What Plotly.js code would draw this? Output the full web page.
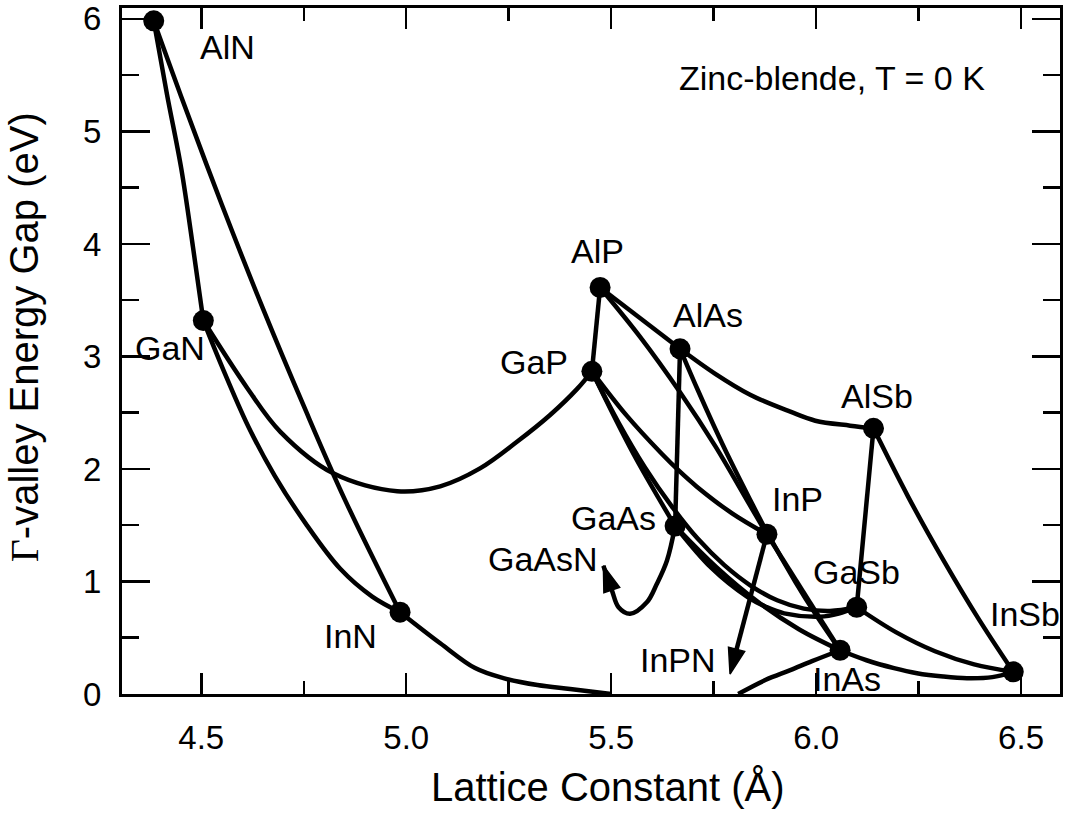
<!DOCTYPE html>
<html>
<head>
<meta charset="utf-8">
<script src="https://cdn.plot.ly/plotly-3.0.1.min.js"></script>
<style>html,body{margin:0;padding:0;background:#fff;}#chart{width:1065px;height:818px;}</style>
</head>
<body>
<div id="chart"></div>
<script>
// Binary compounds (lattice constant in Å, Γ-valley gap in eV)
const compounds = ['AlN','GaN','InN','AlP','GaP','AlAs','GaAs','InP','AlSb','GaSb','InAs','InSb'];
const latticeA = [4.384,4.505,4.985,5.473,5.453,5.668,5.656,5.880,6.140,6.099,6.0585,6.481];
const gapEV    = [5.983,3.319,0.727,3.613,2.868,3.068,1.493,1.420,2.361,0.771,0.389,0.197];

// Ternary curves
const alganX = [4.384,4.416,4.451,4.480,4.505];
const alganY = [5.983,5.336,4.673,3.966,3.319];
const alinnX = [4.384,4.45,4.55,4.65,4.75,4.85,4.985];
const alinnY = [5.983,5.32,4.35,3.43,2.56,1.73,0.727];
const gainnX = [4.505,4.551,4.615,4.680,4.754,4.839,4.917,4.985];
const gainnY = [3.319,2.906,2.376,1.935,1.519,1.113,0.866,0.727];
const ganpX = [4.505,4.612,4.693,4.822,4.978,5.083,5.180,5.271,5.351,5.417,5.453];
const ganpY = [3.319,2.72,2.33,1.961,1.802,1.846,2.005,2.244,2.48,2.712,2.868];
const innasX = [4.985,5.083,5.168,5.237,5.320,5.400,5.50];
const innasY = [0.727,0.451,0.230,0.141,0.080,0.044,0.0];
const inasnX = [5.810,5.876,5.937,5.990,6.0585];
const inasnY = [0.0,0.124,0.212,0.292,0.389];
const algapX = [5.453,5.473];
const algapY = [2.868,3.613];
const alpasX = [5.473,5.668];
const alpasY = [3.613,3.068];
const alassbX = [5.668,5.754,5.839,5.937,5.998,6.083,6.140];
const alassbY = [3.068,2.845,2.659,2.509,2.429,2.385,2.361];
const alinpX = [5.473,5.571,5.668,5.754,5.838,5.880];
const alinpY = [3.613,3.172,2.682,2.203,1.68,1.42];
const alinasX = [5.668,5.71,5.75,5.79,5.838,5.88,5.95,6.0,6.0585];
const alinasY = [3.068,2.713,2.389,2.081,1.733,1.44,0.993,0.702,0.389];
const inasp_X = [5.880,6.0585];
const inasp_Y = [1.420,0.389];
const gaaspX = [5.453,5.5545,5.656];
const gaaspY = [2.868,2.133,1.493];
const gainpX = [5.453,5.538,5.624,5.6665,5.709,5.795,5.880];
const gainpY = [2.868,2.474,2.133,1.98,1.843,1.606,1.42];
const gapsbX = [5.453,5.5176,5.582,5.647,5.711,5.776,5.841,5.905,5.970,6.034,6.099];
const gapsbY = [2.868,2.415,2.016,1.672,1.381,1.145,0.962,0.833,0.759,0.738,0.771];
const gaassbX = [5.656,5.7446,5.833,5.8775,5.922,6.010,6.055,6.099];
const gaassbY = [1.493,1.120,0.861,0.775,0.717,0.687,0.714,0.771];
const gainasX = [5.656,5.7566,5.857,5.958,6.0585];
const gainasY = [1.493,1.128,0.822,0.576,0.389];
const algaasX = [5.668,5.656];
const algaasY = [3.068,1.493];
const algasbX = [6.140,6.099];
const algasbY = [2.361,0.771];
const alinsbX = [6.140,6.225,6.3105,6.396,6.481];
const alinsbY = [2.361,1.75,1.19,0.67,0.197];
const gainsbX = [6.099,6.1945,6.29,6.3855,6.481];
const gainsbY = [0.771,0.550,0.380,0.263,0.197];
const inassbX = [6.0585,6.123,6.19,6.246,6.31,6.368,6.43,6.481];
const inassbY = [0.389,0.30,0.23,0.185,0.155,0.14,0.15,0.197];
// arrows (last point = arrow tip)
const gaasnX = [5.656,5.636,5.611,5.587,5.546,5.518,5.502,5.481];
const gaasnY = [1.493,1.184,0.975,0.815,0.713,0.771,0.919,1.14];
const inpnX = [5.880,5.790];
const inpnY = [1.420,0.177];

// Text labels
const labelText = ['AlN','GaN','InN','AlP','GaP','AlAs','GaAs','GaAsN','InP','GaSb','AlSb','InSb','InAs','InPN'];
const labelX = [4.563,4.424,4.863,5.466,5.312,5.737,5.505,5.334,5.954,6.098,6.149,6.510,6.076,5.663];
const labelY = [5.751,3.074,0.512,3.940,2.951,3.366,1.564,1.201,1.731,1.087,2.650,0.707,0.133,0.300];

const curves = [
  [alganX,alganY],[alinnX,alinnY],[gainnX,gainnY],[ganpX,ganpY],[innasX,innasY],[inasnX,inasnY],
  [algapX,algapY],[alpasX,alpasY],[alassbX,alassbY],[alinpX,alinpY],[alinasX,alinasY],[inasp_X,inasp_Y],
  [gaaspX,gaaspY],[gainpX,gainpY],[gapsbX,gapsbY],[gaassbX,gaassbY],[gainasX,gainasY],[algaasX,algaasY],
  [algasbX,algasbY],[alinsbX,alinsbY],[gainsbX,gainsbY],[inassbX,inassbY]
];
const arrows = [[gaasnX,gaasnY],[inpnX,inpnY]];

const LW = 4.5;
const FONT = 'Liberation Sans, Arial, Helvetica, sans-serif';
const traces = curves.map(c => ({
  x: c[0], y: c[1], mode: 'lines', type: 'scatter',
  line: {color: '#000', width: LW, shape: c[0].length > 2 ? 'spline' : 'linear'},
  hoverinfo: 'skip', showlegend: false, cliponaxis: true
}));
arrows.forEach(c => traces.push({
  x: c[0], y: c[1], mode: 'lines+markers', type: 'scatter',
  line: {color: '#000', width: LW, shape: c[0].length > 2 ? 'spline' : 'linear'},
  marker: {
    color: '#000', opacity: 1, symbol: 'arrow', angleref: 'previous',
    line: {color: '#000', width: 1.5},
    size: c[0].map((v,i) => i === c[0].length - 1 ? 27 : 0)
  },
  hoverinfo: 'skip', showlegend: false
}));
traces.push({
  x: latticeA, y: gapEV, text: compounds, mode: 'markers', type: 'scatter',
  marker: {color: '#000', size: 21}, showlegend: false
});

const annotations = labelText.map((t,i) => ({
  x: labelX[i], y: labelY[i], xref: 'x', yref: 'y', text: t, showarrow: false,
  xanchor: 'center', yanchor: 'middle', font: {family: FONT, size: 34, color: '#000'}
}));
annotations.push({
  x: 6.039, y: 5.477, xref: 'x', yref: 'y', text: 'Zinc-blende, T = 0 K', showarrow: false,
  xanchor: 'center', yanchor: 'middle', font: {family: FONT, size: 34, color: '#000'}
});
// axis titles, placed as in the reference
annotations.push({
  x: 0.518, y: -0.135, xref: 'paper', yref: 'paper', text: 'Lattice Constant (Å)', showarrow: false,
  xanchor: 'center', yanchor: 'middle', font: {family: FONT, size: 40, color: '#000'}
});
annotations.push({
  x: -0.1045, y: 0.52, xref: 'paper', yref: 'paper', textangle: -90,
  text: '<span style="font-family:\'Liberation Serif\',serif">Γ</span>-valley Energy Gap (eV)', showarrow: false,
  xanchor: 'center', yanchor: 'middle', font: {family: FONT, size: 40, color: '#000'}
});

const axisCommon = {
  showline: true, linewidth: 3, linecolor: '#000', mirror: 'ticks',
  ticks: 'inside', tickwidth: 2.5, tickcolor: '#000',
  showgrid: false, zeroline: false, ticklabeloverflow: 'allow',
  tickfont: {family: FONT, size: 33, color: '#000'}
};

const layout = {
  width: 1065, height: 818,
  margin: {l: 122, r: 5, t: 8, b: 124},
  paper_bgcolor: '#fff', plot_bgcolor: '#fff',
  font: {family: FONT, color: '#000'},
  xaxis: Object.assign({}, axisCommon, {
    range: [4.3066, 6.595], tick0: 4.5, dtick: 0.5, tickformat: '.1f', ticklen: 21,
    ticklabelstandoff: 12,
    minor: {dtick: 0.25, ticks: 'inside', ticklen: 13, tickwidth: 2.5, tickcolor: '#000', showgrid: false}
  }),
  yaxis: Object.assign({}, axisCommon, {
    range: [0, 6.097], tick0: 0, dtick: 1, ticklen: 28,
    ticklabelstandoff: 11,
    minor: {dtick: 0.5, ticks: 'inside', ticklen: 17, tickwidth: 2.5, tickcolor: '#000', showgrid: false}
  }),
  annotations: annotations
};

Plotly.newPlot('chart', traces, layout, {staticPlot: true, displayModeBar: false});
</script>
</body>
</html>
